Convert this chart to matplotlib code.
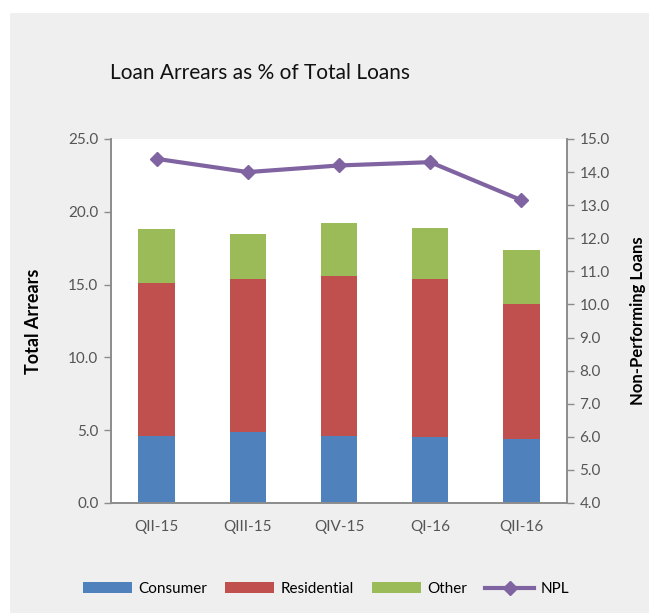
import numpy as np
import matplotlib
matplotlib.use("Agg")
import matplotlib.pyplot as plt
from matplotlib.patches import Rectangle

plt.rcParams["font.family"] = ["Lato", "DejaVu Sans"]

# Data
quarters = ["QII-15", "QIII-15", "QIV-15", "QI-16", "QII-16"]
consumer = [4.6, 4.9, 4.6, 4.5, 4.4]
residential = [10.5, 10.5, 11.0, 10.9, 9.3]
other = [3.7, 3.1, 3.6, 3.5, 3.7]
npl = [14.4, 14.0, 14.2, 14.3, 13.15]

C_CONS = "#4f81bd"
C_RES = "#c0504d"
C_OTH = "#9bbb59"
C_NPL = "#8064a2"
GREY_TXT = "#555555"
SPINE = "#8c8c8c"

fig = plt.figure(figsize=(6.49, 6.13), dpi=100)
fig.patch.set_facecolor("white")
fig.patches.append(Rectangle((10 / 649, 0), 1, 1 - 13 / 613, transform=fig.transFigure,
                             facecolor="#efefef", edgecolor="none", zorder=-10))

ax = fig.add_axes([111 / 649, 1 - 503 / 613, 456 / 649, 364 / 613])
ax.set_facecolor("white")

x = np.arange(len(quarters))
w = 0.4
cons = np.array(consumer)
res = np.array(residential)
oth = np.array(other)
b1 = ax.bar(x, cons, w, color=C_CONS, label="Consumer", zorder=2)
b2 = ax.bar(x, res, w, bottom=cons, color=C_RES, label="Residential", zorder=2)
b3 = ax.bar(x, oth, w, bottom=cons + res, color=C_OTH, label="Other", zorder=2)

ax.set_xlim(-0.5, len(quarters) - 0.5)
ax.set_ylim(0, 25)
ax.set_yticks(np.arange(0, 25.1, 5))
ax.set_yticklabels([f"{v:.1f}" for v in np.arange(0, 25.1, 5)])
ax.set_xticks(x)
ax.set_xticklabels(quarters)
ax.tick_params(axis="x", length=0, pad=12, labelsize=11, colors=GREY_TXT)
ax.tick_params(axis="y", length=5, width=1, color=SPINE, labelsize=11,
               labelcolor=GREY_TXT, pad=4)
ax.set_ylabel("Total Arrears", fontsize=13, fontweight="bold")
ax.yaxis.set_label_coords(-0.151, 0.5)

ax2 = ax.twinx()
line, = ax2.plot(x, npl, color=C_NPL, linewidth=3, marker="D", markersize=7,
                 label="NPL", zorder=3)
ax2.set_ylim(4, 15)
ax2.set_yticks(np.arange(4, 15.1, 1))
ax2.set_yticklabels([f"{v:.1f}" for v in np.arange(4, 15.1, 1)])
ax2.tick_params(axis="y", length=5, width=1, color=SPINE, labelsize=11,
                labelcolor=GREY_TXT, pad=4)
ax2.set_ylabel("Non-Performing Loans", fontsize=12, fontweight="bold")
ax2.yaxis.set_label_coords(1.138, 0.5)

for a in (ax, ax2):
    a.spines["top"].set_visible(False)
    for s in ("left", "right", "bottom"):
        a.spines[s].set_color(SPINE)
        a.spines[s].set_linewidth(1.2)

fig.text(260 / 649, 1 - 73 / 613, "Loan Arrears as % of Total Loans",
         ha="center", va="center", fontsize=15, color="#111111")

handles = [b1, b2, b3, line]
labels = ["Consumer", "Residential", "Other", "NPL"]
fig.legend(handles, labels, loc="center", bbox_to_anchor=(326 / 649, 1 - 589 / 613),
           ncol=4, frameon=False, fontsize=11, handlelength=3.2,
           columnspacing=1.2, handletextpad=0.4)

plt.savefig("out.png", dpi=100)
plt.close()
